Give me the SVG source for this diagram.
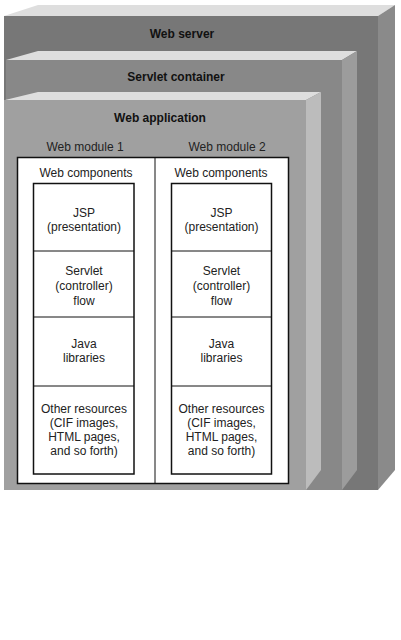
<svg xmlns="http://www.w3.org/2000/svg" width="401" height="640" viewBox="0 0 401 640">
<style>
.top{fill:#dedede}
.lbl{font-family:"Liberation Sans",Arial,sans-serif;font-size:12px;font-weight:bold;fill:#111;text-anchor:middle}
.t{font-family:"Liberation Sans",Arial,sans-serif;font-size:12px;fill:#222;text-anchor:middle}
.box{fill:#fff;stroke:#111;stroke-width:1.5}
.div{stroke:#111;stroke-width:1;fill:none}
</style>
<rect width="401" height="640" fill="#fff"/>
<g id="web-server">
<polygon class="top" points="4,16 38,5 395,5 378,16"/>
<rect x="4" y="16" width="374" height="474" fill="#777"/>
<polygon points="378,16 395,5 395,470 378,490" fill="#8a8a8a"/>
<text class="lbl" x="182" y="38">Web server</text>
</g>
<g id="servlet-container">
<polygon class="top" points="6,60 38,51 357,51 342,60"/>
<rect x="6" y="60" width="336" height="430" fill="#888"/>
<polygon points="342,60 357,51 357,470 342,490" fill="#9c9c9c"/>
<text class="lbl" x="176" y="81">Servlet container</text>
</g>
<g id="web-application">
<polygon class="top" points="5,100 38,92 321,92 306,100"/>
<rect x="4" y="100" width="302" height="390" fill="#a0a0a0"/>
<polygon points="306,100 321,92 321,470 306,490" fill="#bcbcbc"/>
<text class="lbl" x="160" y="122">Web application</text>
</g>
<g id="web-modules">
<rect class="box" x="17.5" y="157.5" width="271" height="326"/>
<line class="div" x1="155" y1="157.5" x2="155" y2="483.5"/>
<text class="t" x="85" y="151">Web module 1</text>
<text class="t" x="227" y="151">Web module 2</text>
</g>
<g id="module1">
<text class="t" x="86" y="177">Web components</text>
<rect class="box" x="33.5" y="183.5" width="100.5" height="290.5"/>
<line class="div" x1="33.5" y1="251" x2="134" y2="251"/>
<line class="div" x1="33.5" y1="317" x2="134" y2="317"/>
<line class="div" x1="33.5" y1="386" x2="134" y2="386"/>
<text class="t" x="84" y="217">JSP</text>
<text class="t" x="84" y="230.5">(presentation)</text>
<text class="t" x="84" y="275">Servlet</text>
<text class="t" x="84" y="290">(controller)</text>
<text class="t" x="84" y="305">flow</text>
<text class="t" x="84" y="348">Java</text>
<text class="t" x="84" y="362">libraries</text>
<text class="t" x="84" y="413">Other resources</text>
<text class="t" x="84" y="427">(CIF images,</text>
<text class="t" x="84" y="441">HTML pages,</text>
<text class="t" x="84" y="455">and so forth)</text>
</g>
<g id="module2">
<text class="t" x="221" y="177">Web components</text>
<rect class="box" x="171.5" y="183.5" width="100" height="290.5"/>
<line class="div" x1="171.5" y1="251" x2="271.5" y2="251"/>
<line class="div" x1="171.5" y1="317" x2="271.5" y2="317"/>
<line class="div" x1="171.5" y1="386" x2="271.5" y2="386"/>
<text class="t" x="221.5" y="217">JSP</text>
<text class="t" x="221.5" y="230.5">(presentation)</text>
<text class="t" x="221.5" y="275">Servlet</text>
<text class="t" x="221.5" y="290">(controller)</text>
<text class="t" x="221.5" y="305">flow</text>
<text class="t" x="221.5" y="348">Java</text>
<text class="t" x="221.5" y="362">libraries</text>
<text class="t" x="221.5" y="413">Other resources</text>
<text class="t" x="221.5" y="427">(CIF images,</text>
<text class="t" x="221.5" y="441">HTML pages,</text>
<text class="t" x="221.5" y="455">and so forth)</text>
</g>
<g id="connectors"/>
</svg>
